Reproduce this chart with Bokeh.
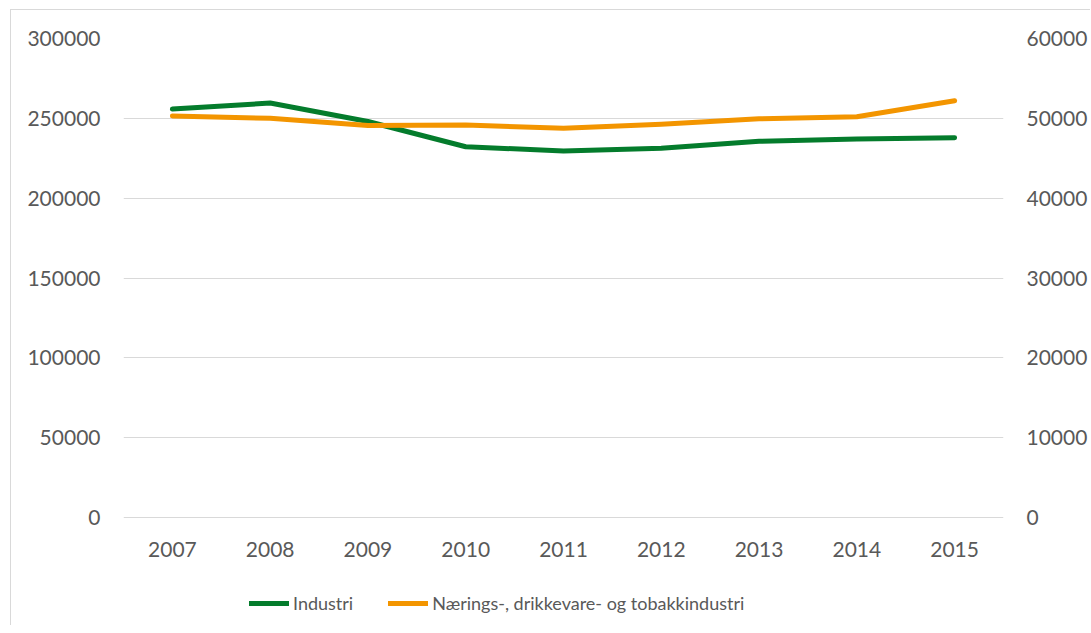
from bokeh.plotting import figure
from bokeh.models import (ColumnDataSource, FactorRange, Range1d, LinearAxis,
                          FixedTicker, BasicTickFormatter, Legend, LegendItem)
from bokeh.embed import file_html
from bokeh.resources import INLINE

years = ["2007", "2008", "2009", "2010", "2011", "2012", "2013", "2014", "2015"]
industri = [255800, 259600, 248000, 232200, 229500, 231200, 235600, 237000, 237800]
naering = [50300, 50000, 49100, 49150, 48750, 49250, 49950, 50200, 52200]
left_ticks = [0, 50000, 100000, 150000, 200000, 250000, 300000]
right_ticks = [0, 10000, 20000, 30000, 40000, 50000, 60000]

FONT = "Lato"
TXT = "#595959"
GRID = "#d9d9d9"

# frame spans 583 px; the value axes occupy the top 479 px, the rest holds labels + legend
FRAME_H = 583
PLOT_H = 479
left_max = 300000
right_max = 60000
left_min = -(FRAME_H - PLOT_H) * left_max / PLOT_H
right_min = -(FRAME_H - PLOT_H) * right_max / PLOT_H

src = ColumnDataSource(dict(year=years, ind=industri, nae=naering))

p = figure(frame_width=880, frame_height=FRAME_H, x_range=FactorRange(*years, range_padding=0),
           y_range=Range1d(left_min, left_max), output_backend="svg", toolbar_location=None,
           min_border_left=112, min_border_right=10, min_border_top=28, min_border_bottom=4)
p.styles = {"border-left": "1px solid #d9d9d9", "border-top": "1px solid #d9d9d9",
            "margin-left": "10px", "margin-top": "9px"}
p.extra_y_ranges = {"right": Range1d(right_min, right_max)}
p.outline_line_color = None
p.xgrid.grid_line_color = None
p.ygrid.grid_line_color = GRID
p.ygrid.ticker = FixedTicker(ticks=left_ticks)

r1 = p.line("year", "ind", source=src, line_color="#047c2c", line_width=5, line_cap="round", line_join="round")
r2 = p.line("year", "nae", source=src, y_range_name="right", line_color="#f39500", line_width=5,
            line_cap="round", line_join="round")

def style_axis(ax):
    ax.axis_line_color = None
    ax.major_tick_line_color = None
    ax.minor_tick_line_color = None
    ax.major_label_text_font = FONT
    ax.major_label_text_font_size = "21px"
    ax.major_label_text_color = TXT

yl = p.yaxis[0]
yl.ticker = FixedTicker(ticks=left_ticks)
yl.formatter = BasicTickFormatter(use_scientific=False)
yl.major_label_standoff = 17
style_axis(yl)

yr = LinearAxis(y_range_name="right", ticker=FixedTicker(ticks=right_ticks),
                formatter=BasicTickFormatter(use_scientific=False))
yr.major_label_standoff = 17
style_axis(yr)
p.add_layout(yr, "right")

xa = p.xaxis[0]
xa.fixed_location = 0
xa.major_label_standoff = 18
style_axis(xa)

legend = Legend(items=[LegendItem(label="Industri", renderers=[r1]),
                       LegendItem(label="Nærings-, drikkevare- og tobakkindustri", renderers=[r2])],
                orientation="horizontal", location=(126, 7))
legend.label_text_font = FONT
legend.label_text_font_size = "18px"
legend.label_text_color = TXT
legend.border_line_color = None
legend.background_fill_alpha = 0
legend.glyph_width = 40
legend.label_standoff = 4
legend.spacing = 35
legend.padding = 0
legend.margin = 0
p.add_layout(legend, "center")

open("out.html", "w").write(file_html(p, INLINE))
